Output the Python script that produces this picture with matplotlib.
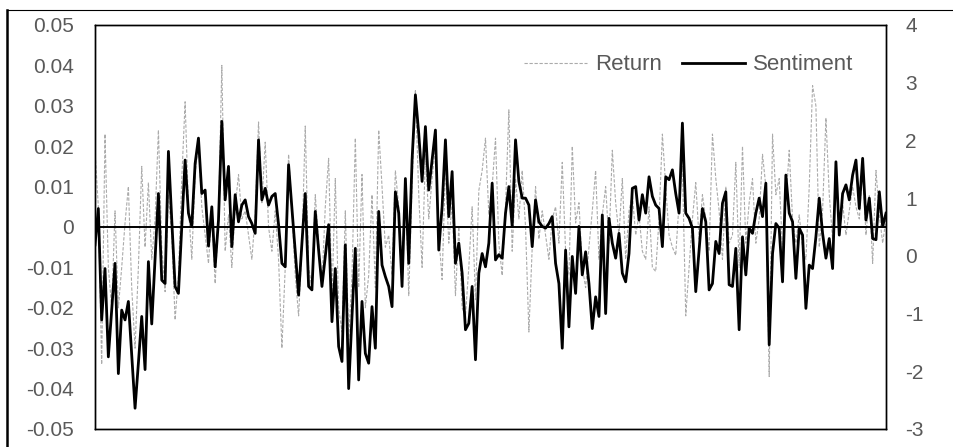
import numpy as np
import matplotlib; matplotlib.use("Agg"); import matplotlib.pyplot as plt
from matplotlib.lines import Line2D

plt.rcParams.update({"font.family": ["Liberation Sans", "DejaVu Sans"], "font.size": 15,
                     "axes.unicode_minus": False})

# sentiment index (right axis) left to right
sentiment = [
    0.19, 0.82, -1.11, -0.22, -1.75, -0.94, -0.13, -2.04, -0.94, -1.11,
    -0.79, -1.72, -2.64, -1.86, -1.05, -1.97, -0.10, -1.18, -0.04, 1.08,
    -0.42, -0.48, 1.81, 0.62, -0.53, -0.65, 0.51, 1.66, 0.74, 0.51,
    1.60, 2.04, 1.08, 1.14, 0.17, 0.85, -0.19, 0.62, 2.33, 0.97,
    1.55, 0.16, 1.06, 0.59, 0.88, 0.97, 0.68, 0.56, 0.39, 2.01,
    0.97, 1.17, 0.88, 1.03, 1.08, 0.54, -0.13, -0.19, 1.58, 0.82,
    0.07, -0.68, 0.22, 1.08, -0.53, -0.59, 0.77, 0.10, -0.53, -0.01,
    0.54, -1.14, -0.22, -1.57, -1.83, 0.19, -2.30, -1.05, 0.13, -2.15,
    -0.79, -1.69, -1.86, -0.88, -1.60, 0.77, -0.16, -0.36, -0.53, -0.88,
    1.11, 0.74, -0.53, 1.34, -0.13, 1.66, 2.79, 2.12, 1.29, 2.24,
    1.14, 1.66, 2.18, 0.10, 0.85, 2.01, 0.68, 1.46, -0.13, 0.22,
    -0.30, -1.28, -1.17, -0.53, -1.80, -0.30, 0.04, -0.19, 0.22, 1.26,
    -0.07, 0.02, -0.04, 0.74, 1.20, 0.51, 2.01, 1.29, 1.00, 1.00,
    0.88, 0.16, 0.97, 0.59, 0.51, 0.48, 0.56, 0.68, -0.13, -0.48,
    -1.60, 0.10, -1.23, -0.01, -0.65, 0.51, -0.33, 0.07, -0.48, -1.26,
    -0.71, -1.05, 0.71, -1.00, 0.65, 0.22, -0.04, 0.39, -0.30, -0.45,
    0.04, 1.17, 1.20, 0.62, 1.06, 0.74, 1.37, 1.03, 0.88, 0.82,
    0.16, 1.37, 1.32, 1.49, 1.08, 0.74, 2.30, 0.74, 0.65, 0.48,
    -0.62, 0.10, 0.82, 0.59, -0.59, -0.48, 0.25, 0.04, 0.91, 1.11,
    -0.50, -0.53, 0.13, -1.28, 0.33, -0.33, 0.48, 0.39, 0.74, 1.00,
    0.68, 1.26, -1.54, 0.04, 0.56, 0.48, -0.45, 1.40, 0.74, 0.59,
    -0.39, 0.48, 0.36, -0.91, -0.16, -0.22, 0.33, 1.00, 0.39, -0.04,
    0.30, -0.22, 1.63, 0.36, 1.08, 1.23, 0.97, 1.40, 1.66, 0.82,
    1.69, 0.62, 1.00, 0.30, 0.28, 1.11, 0.51, 0.74,
]

# returns (left axis), estimated from the faint dashed line
returns = [
    0.019, 0.005, -0.034, 0.023, -0.010, -0.020, 0.004, -0.020, -0.010, 0.001,
    0.010, -0.015, -0.030, -0.010, 0.015, -0.005, 0.011, -0.008, 0.002, 0.024,
    -0.005, -0.016, 0.008, -0.002, -0.023, -0.012, 0.012, 0.031, 0.005, -0.008,
    0.013, 0.021, 0.005, -0.002, -0.009, 0.004, -0.014, 0.002, 0.040, -0.006,
    0.003, -0.010, 0.005, 0.013, 0.002, 0.004, -0.002, -0.008, 0.003, 0.026,
    0.006, 0.021, 0.000, -0.006, 0.004, -0.008, -0.030, -0.010, 0.018, 0.004,
    -0.012, -0.022, -0.005, 0.025, -0.010, -0.015, 0.008, -0.004, -0.014, 0.005,
    0.017, -0.018, 0.012, -0.020, -0.026, 0.004, -0.028, -0.012, 0.022, -0.015,
    0.013, -0.020, -0.012, 0.008, -0.015, 0.024, 0.010, -0.005, -0.002, -0.012,
    0.014, 0.005, -0.010, 0.012, -0.017, 0.010, 0.034, 0.008, -0.010, 0.018,
    0.002, 0.012, 0.020, -0.002, -0.013, 0.015, -0.004, 0.006, -0.017, 0.000,
    -0.020, -0.022, -0.010, 0.005, -0.018, 0.009, 0.014, 0.022, 0.003, 0.010,
    0.022, -0.004, -0.012, 0.005, 0.029, -0.006, 0.012, 0.002, 0.014, 0.000,
    -0.026, -0.005, 0.010, -0.003, 0.004, -0.002, -0.008, 0.002, 0.005, -0.004,
    0.016, -0.006, -0.012, 0.020, 0.001, 0.006, -0.010, -0.015, -0.005, 0.004,
    0.014, -0.008, 0.003, 0.010, -0.004, 0.019, 0.006, -0.002, 0.012, -0.008,
    0.004, 0.008, -0.002, 0.003, -0.006, -0.008, 0.005, -0.010, -0.011, 0.002,
    0.023, 0.010, -0.002, -0.005, -0.007, 0.006, 0.015, -0.022, -0.010, 0.002,
    0.011, -0.003, 0.008, 0.002, -0.006, 0.023, 0.012, 0.004, -0.008, 0.010,
    -0.004, -0.002, 0.016, -0.010, 0.020, -0.004, 0.006, 0.012, -0.004, 0.002,
    0.018, 0.010, -0.037, 0.023, 0.008, 0.012, -0.006, 0.006, 0.019, 0.002,
    -0.004, 0.003, -0.005, -0.008, 0.010, 0.035, 0.030, -0.005, 0.004, 0.027,
    0.008, -0.003, 0.012, 0.002, 0.006, -0.002, 0.004, 0.010, 0.005, 0.002,
    0.015, -0.002, 0.008, -0.009, 0.014, 0.003, -0.004, 0.002,
]

left_ticks = [-0.05, -0.04, -0.03, -0.02, -0.01, 0, 0.01, 0.02, 0.03, 0.04, 0.05]
left_labels = ["-0.05", "-0.04", "-0.03", "-0.02", "-0.01", "0", "0.01", "0.02", "0.03", "0.04", "0.05"]
right_ticks = [-3, -2, -1, 0, 1, 2, 3, 4]

GRAY = "#595959"
x = np.arange(len(sentiment))

fig = plt.figure(figsize=(9.54, 4.47), dpi=100)
ax = fig.add_axes([95 / 954, 1 - 429 / 447, 791 / 954, 404 / 447])
ax2 = ax.twinx()

ret_line, = ax.plot(x, returns, color="#ababab", lw=0.8, ls=(0, (3, 1.5)), label="Return")
ax.axhline(0, color="black", lw=1.4, zorder=3)
sent_line, = ax2.plot(x, sentiment, color="black", lw=2.0, label="Sentiment")

ax.set_xlim(0, len(x) - 1)
ax.set_ylim(-0.05, 0.05)
ax2.set_ylim(-3, 4)
ax.set_yticks(left_ticks, left_labels)
ax2.set_yticks(right_ticks)
ax.set_xticks([])
ax.tick_params(axis="y", length=0, pad=15, labelcolor=GRAY, labelsize=15)
ax2.tick_params(axis="y", length=0, pad=14, labelcolor=GRAY, labelsize=15)
for a in (ax, ax2):
    for s in a.spines.values():
        s.set_color("black"); s.set_linewidth(1.0)

ax2.legend(handles=[ret_line, sent_line], loc="center", bbox_to_anchor=(0.751, 0.901),
           ncol=2, frameon=False, fontsize=16, handlelength=2.8, handletextpad=0.4,
           columnspacing=0.9, labelcolor=GRAY)

# page border visible round the chart
fig.add_artist(Line2D([7.5 / 954, 7.5 / 954], [0, 1 - 9.5 / 447], color="black", lw=1.8))
fig.add_artist(Line2D([7.5 / 954, 1], [1 - 9.5 / 447, 1 - 9.5 / 447], color="black", lw=0.8))

fig.savefig("out.png", dpi=100)
